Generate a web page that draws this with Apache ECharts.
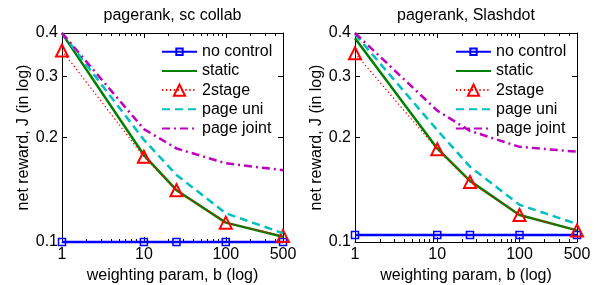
<!DOCTYPE html>
<html><head><meta charset="utf-8">
<script src="https://cdn.jsdelivr.net/npm/echarts@6/dist/echarts.min.js"></script>
<style>html,body{margin:0;padding:0;background:#fff}#c{width:596px;height:285px}</style>
</head><body><div id="c"></div>
<script>
// ---- data ----
const bValues = [1, 10, 25, 100, 500];
const xTickLabels = [1, 10, 100, 500];
const xMinorTicks = [2, 3, 4, 5, 6, 7, 8, 9, 20, 30, 40, 50, 60, 70, 80, 90, 200, 300, 400];
const yTickLabels = [0.1, 0.2, 0.3, 0.4];
const seriesNames = ['no control', 'static', '2stage', 'page uni', 'page joint'];
const panelTitles = ['pagerank, sc collab', 'pagerank, Slashdot'];
const xAxisName = 'weighting param, b (log)';
const yAxisName = 'net reward, J (in log)';

// panel 1: sc collab
const scNoControl = [0.1, 0.1, 0.1, 0.1, 0.1];
const scStatic    = [0.399, 0.178, 0.141, 0.1137, 0.1036];
const sc2stage    = [0.356, 0.176, 0.141, 0.1137, 0.104];
const scPageUni   = [0.4, 0.197, 0.156, 0.121, 0.106];
const scPageJoint = [0.4, 0.2115, 0.186, 0.1686, 0.161];

// panel 2: Slashdot
const sdNoControl = [0.1047, 0.1047, 0.1047, 0.1047, 0.1047];
const sdStatic    = [0.386, 0.186, 0.150, 0.1196, 0.108];
const sd2stage    = [0.3497, 0.185, 0.149, 0.1196, 0.108];
const sdPageUni   = [0.397, 0.210, 0.1648, 0.128, 0.1127];
const sdPageJoint = [0.4, 0.239, 0.209, 0.188, 0.182];

const panelData = [
  [scNoControl, scStatic, sc2stage, scPageUni, scPageJoint],
  [sdNoControl, sdStatic, sd2stage, sdPageUni, sdPageJoint]
];

// ---- styles ----
const FONT = 'Liberation Sans, Arial, sans-serif';
const FS = 16;
const grids = [
  { left: 62, top: 33, width: 221, height: 209, outerBoundsMode: 'none', containLabel: false },
  { left: 355, top: 33, width: 222, height: 209, outerBoundsMode: 'none', containLabel: false }
];
const legendLeft = [161, 455];
const ROW = 19.2;
const ROW0 = 51.7;

const styles = [
  { color: '#0000ff', width: 2.5, type: 'solid', symbol: 'rect', symbolSize: 7, borderWidth: 1.5 },
  { color: '#008000', width: 2.5, type: 'solid', symbol: 'none' },
  { color: '#ff0000', width: 1.3, type: [1.3, 2.6], symbol: 'triangle', symbolSize: 12, borderWidth: 2 },
  { color: '#00bfbf', width: 2.5, type: [8, 5], symbol: 'none' },
  { color: '#bf00bf', width: 2.5, type: [8, 4, 2, 4], symbol: 'none' }
];

const xAxes = [], yAxes = [], series = [], titles = [], legends = [];
const black = '#000';
for (let p = 0; p < 2; p++) {
  const g = grids[p];
  const base = { type: 'log', logBase: 10, gridIndex: p, min: 1, max: 500, splitLine: { show: false } };
  // bottom main
  xAxes.push(Object.assign({}, base, {
    position: 'bottom',
    axisLine: { show: true, lineStyle: { color: black, width: 1 } },
    axisTick: { show: true, inside: true, length: 5, customValues: xTickLabels, lineStyle: { color: black } },
    axisLabel: { show: true, customValues: xTickLabels, color: black, fontSize: FS, fontFamily: FONT, margin: 5,
      formatter: v => String(Math.round(v)) },
    name: xAxisName, nameLocation: 'middle', nameGap: 13,
    nameTextStyle: { color: black, fontSize: FS, fontFamily: FONT }
  }));
  // bottom minor
  xAxes.push(Object.assign({}, base, {
    position: 'bottom',
    axisLine: { show: false },
    axisTick: { show: true, inside: true, length: 3, customValues: xMinorTicks, lineStyle: { color: black } },
    axisLabel: { show: false }
  }));
  // top main
  xAxes.push(Object.assign({}, base, {
    position: 'top',
    axisLine: { show: true, lineStyle: { color: black, width: 1 } },
    axisTick: { show: true, inside: true, length: 5, customValues: xTickLabels, lineStyle: { color: black } },
    axisLabel: { show: false }
  }));
  // top minor
  xAxes.push(Object.assign({}, base, {
    position: 'top',
    axisLine: { show: false },
    axisTick: { show: true, inside: true, length: 3, customValues: xMinorTicks, lineStyle: { color: black } },
    axisLabel: { show: false }
  }));
  const ybase = { type: 'log', logBase: 10, gridIndex: p, min: 0.1, max: 0.4, splitLine: { show: false } };
  yAxes.push(Object.assign({}, ybase, {
    position: 'left',
    axisLine: { show: true, lineStyle: { color: black, width: 1 } },
    axisTick: { show: true, inside: true, length: 5, customValues: yTickLabels, lineStyle: { color: black } },
    axisLabel: { show: true, customValues: yTickLabels, color: black, fontSize: FS, fontFamily: FONT, margin: 4,
      formatter: v => v.toFixed(1) },
    name: yAxisName, nameLocation: 'middle', nameGap: 29,
    nameTextStyle: { color: black, fontSize: FS, fontFamily: FONT }
  }));
  yAxes.push(Object.assign({}, ybase, {
    position: 'right',
    axisLine: { show: true, lineStyle: { color: black, width: 1 } },
    axisTick: { show: true, inside: true, length: 5, customValues: yTickLabels, lineStyle: { color: black } },
    axisLabel: { show: false }
  }));

  titles.push({
    text: panelTitles[p], left: g.left + g.width / 2, top: 8, textAlign: 'center', padding: 0,
    textStyle: { color: black, fontSize: FS, fontWeight: 'normal', fontFamily: FONT }
  });
  // legend row 1 (small square marker) and rows 2-5
  legends.push({
    orient: 'vertical', left: legendLeft[p], top: ROW0 - 9, itemWidth: 35, itemHeight: 8, itemGap: 0,
    padding: 0, data: seriesNames.slice(0, 1), selectedMode: false,
    textStyle: { color: black, fontSize: FS, fontFamily: FONT, height: 18, lineHeight: 18 }
  });
  legends.push({
    orient: 'vertical', left: legendLeft[p], top: ROW0 + ROW - 9, itemWidth: 35, itemHeight: 14, itemGap: ROW - 18,
    padding: 0, data: seriesNames.slice(1), selectedMode: false,
    textStyle: { color: black, fontSize: FS, fontFamily: FONT, height: 18, lineHeight: 18 }
  });

  for (let s = 0; s < 5; s++) {
    const st = styles[s];
    const vals = panelData[p][s];
    series.push({
      name: seriesNames[s], type: 'line', xAxisIndex: p * 4, yAxisIndex: p * 2,
      data: bValues.map((b, i) => [b, vals[i]]),
      clip: false, animation: false, z: 2 + s,
      symbol: st.symbol, symbolSize: st.symbolSize || 0, showSymbol: st.symbol !== 'none',
      lineStyle: { color: st.color, width: st.width, type: st.type },
      itemStyle: { color: 'rgba(255,255,255,0)', borderColor: st.color, borderWidth: st.borderWidth || 0 },
      emphasis: { disabled: true }
    });
  }
}

const chart = echarts.init(document.getElementById('c'), null, { renderer: 'canvas' });
chart.setOption({
  backgroundColor: '#fff',
  animation: false,
  title: titles,
  legend: legends,
  grid: grids,
  xAxis: xAxes,
  yAxis: yAxes,
  series: series
});
</script>
</body></html>
